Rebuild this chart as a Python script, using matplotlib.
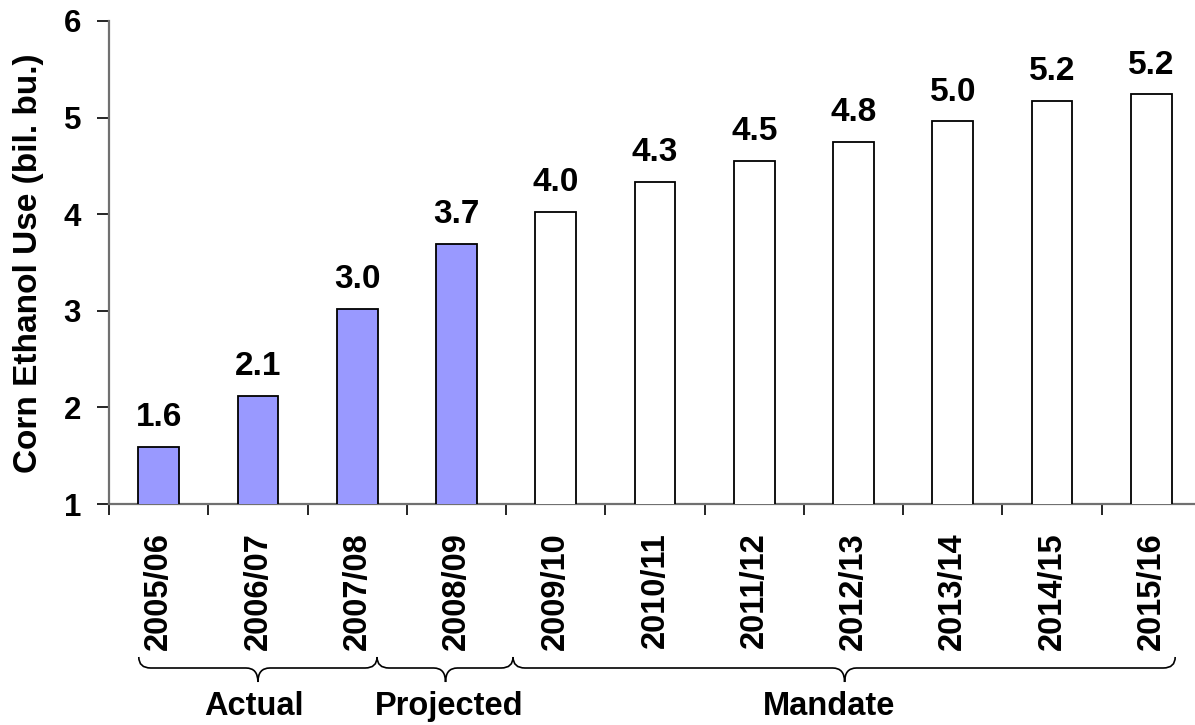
import numpy as np
import matplotlib
matplotlib.use("Agg")
import matplotlib.pyplot as plt
from matplotlib.path import Path
from matplotlib.patches import PathPatch
from matplotlib.transforms import blended_transform_factory

plt.rcParams['font.family'] = ['Liberation Sans', 'DejaVu Sans']
plt.rcParams['font.weight'] = 'bold'

# data
years = ['2005/06', '2006/07', '2007/08', '2008/09', '2009/10', '2010/11',
         '2011/12', '2012/13', '2013/14', '2014/15', '2015/16']
use = [1.59, 2.12, 3.02, 3.69, 4.02, 4.33, 4.55, 4.75, 4.96, 5.17, 5.24]
labels = ['1.6', '2.1', '3.0', '3.7', '4.0', '4.3', '4.5', '4.8', '5.0', '5.2', '5.2']
filled = [True, True, True, True, False, False, False, False, False, False, False]

# groups under the x axis: name, brace start, brace end, tip, text x
groups = ['Actual', 'Projected', 'Mandate']
brace_start = [-0.2, 2.2, 3.57]
brace_end = [2.2, 3.57, 10.24]
brace_tip = [1.0, 2.89, 6.91]
group_text_x = [0.955, 2.93, 6.75]

W, H = 1195, 725
fig = plt.figure(figsize=(W / 100, H / 100), dpi=100)
ax = fig.add_axes([109 / W, 221 / H, 1092 / W, 483 / H])

x = np.arange(len(years))
colors = ['#9999ff' if f else 'white' for f in filled]
ax.bar(x, use, width=0.41, bottom=0, color=colors, edgecolor='black', linewidth=1.3, zorder=3)

for xi, v, lab in zip(x, use, labels):
    ax.annotate(lab, (xi, v), xytext=(0, 15), textcoords='offset points',
                ha='center', va='baseline', fontsize=24, fontweight='bold')

ax.set_xlim(-0.5, len(years) - 0.5)
ax.set_ylim(1, 6)
ax.set_yticks([1, 2, 3, 4, 5, 6])
ax.tick_params(axis='y', direction='out', length=8.6, width=1.2, color='black',
               labelsize=22.5, pad=11.5)

ax.set_xticks(x)
ax.set_xticklabels(years, rotation=90, fontsize=23.5, fontweight='bold')
ax.set_xticks(np.arange(-0.5, len(years) - 0.5, 1.0), minor=True)
ax.tick_params(axis='x', which='major', length=0, pad=20.5)
ax.tick_params(axis='x', which='minor', direction='out', length=8, width=1.2, color='black')

for s in ['top', 'right']:
    ax.spines[s].set_visible(False)
for s in ['left', 'bottom']:
    ax.spines[s].set_color('#707070')
    ax.spines[s].set_linewidth(1.6)

ax.set_ylabel('Corn Ethanol Use (bil. bu.)', fontsize=24, fontweight='bold', va='center')
ax.yaxis.set_label_coords((28 - 109) / 1092, (504 - 263.5) / 483)

# braces
tr = blended_transform_factory(ax.transData, fig.transFigure)
yt, ym, yb = 1 - 657 / H, 1 - 668 / H, 1 - 682 / H
d = 0.12
for name, x0, x1, xt, tx in zip(groups, brace_start, brace_end, brace_tip, group_text_x):
    verts = [(x0, yt), (x0, ym), (x0 + d, ym),
             (xt - d, ym), (xt, ym), (xt, yb),
             (xt, ym), (xt + d, ym),
             (x1 - d, ym), (x1, ym), (x1, yt)]
    codes = [Path.MOVETO, Path.CURVE3, Path.CURVE3,
             Path.LINETO, Path.CURVE3, Path.CURVE3,
             Path.CURVE3, Path.CURVE3,
             Path.LINETO, Path.CURVE3, Path.CURVE3]
    patch = PathPatch(Path(verts, codes), facecolor='none', edgecolor='black',
                      linewidth=1.2, transform=tr, clip_on=False)
    fig.add_artist(patch)
    fig.text(0, 0, name, transform=tr, fontsize=23.5, fontweight='bold',
             ha='center', va='baseline').set_position((tx, 1 - 715 / H))

fig.savefig('out.png', dpi=100)
